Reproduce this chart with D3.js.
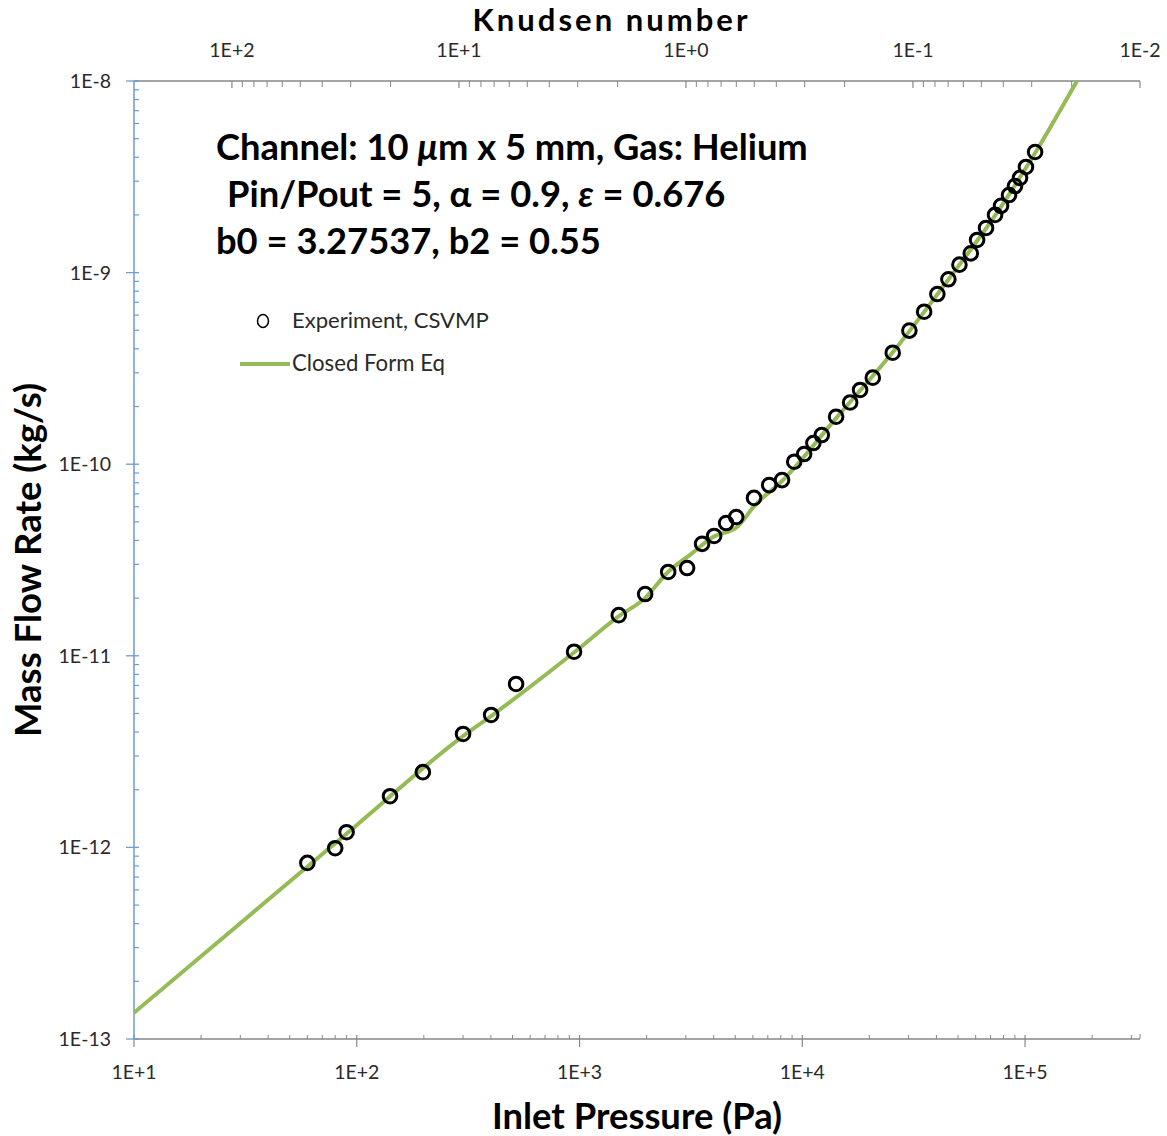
<!DOCTYPE html>
<html>
<head>
<meta charset="utf-8">
<script src="https://cdn.jsdelivr.net/npm/d3@7"></script>
<style>
  html, body { margin: 0; padding: 0; background: #fff; }
  svg { display: block; }
  text { font-family: Lato, "Open Sans", sans-serif; }
</style>
</head>
<body>
<svg id="chart" width="1167" height="1136"></svg>
<script>
// Measured inlet pressure (Pa) and mass flow rate (kg/s), helium
const pressure = [60, 80, 90, 141, 198, 300, 401, 519, 945, 1500,
  1970, 2500, 3040, 3550, 4020, 4550, 5050, 6070, 7100, 8110,
  9200, 10190, 11210, 12230, 14180, 16400, 18170, 20720, 25460, 30240,
  35230, 40380, 45260, 50740, 57060, 60900, 66800, 73300, 78000, 84700,
  90100, 94900, 100900, 110900];
const massFlow = [8.3e-13, 9.9e-13, 1.2e-12, 1.85e-12, 2.47e-12, 3.91e-12, 4.91e-12, 7.13e-12, 1.05e-11, 1.63e-11,
  2.10e-11, 2.74e-11, 2.87e-11, 3.84e-11, 4.22e-11, 4.93e-11, 5.30e-11, 6.67e-11, 7.78e-11, 8.26e-11,
  1.03e-10, 1.13e-10, 1.29e-10, 1.42e-10, 1.77e-10, 2.10e-10, 2.44e-10, 2.83e-10, 3.82e-10, 4.98e-10,
  6.25e-10, 7.73e-10, 9.23e-10, 1.10e-9, 1.26e-9, 1.48e-9, 1.71e-9, 2.00e-9, 2.23e-9, 2.54e-9,
  2.83e-9, 3.12e-9, 3.56e-9, 4.26e-9];

// Closed-form equation result sampled along pressure
const curvePressure = [10, 33.2, 100.2, 300, 401, 944, 1503, 1968, 2495, 3133,
  3972, 5093, 6138, 8110, 14190, 25290, 45080, 77270, 110900, 171000];
const curveFlow = [1.37e-13, 4.44e-13, 1.31e-12, 3.81e-12, 4.85e-12, 1.04e-11, 1.61e-11, 2.00e-11, 2.74e-11, 3.36e-11,
  4.17e-11, 4.70e-11, 6.12e-11, 8.17e-11, 1.74e-10, 3.80e-10, 9.14e-10, 2.17e-9, 4.21e-9, 1.0e-8];

// Axis ticks
const pressureTicks = [1e1, 1e2, 1e3, 1e4, 1e5];
const pressureLabels = ["1E+1", "1E+2", "1E+3", "1E+4", "1E+5"];
const flowTicks = [1e-13, 1e-12, 1e-11, 1e-10, 1e-9, 1e-8];
const flowLabels = ["1E-13", "1E-12", "1E-11", "1E-10", "1E-9", "1E-8"];
const knudsenTicks = [1e2, 1e1, 1e0, 1e-1, 1e-2];
const knudsenLabels = ["1E+2", "1E+1", "1E+0", "1E-1", "1E-2"];

const plotL = 134, plotR = 1140, plotT = 81, plotB = 1039;

const x = d3.scaleLog().domain([10, 3.28e5]).range([plotL, plotR]);
const y = d3.scaleLog().domain([1e-13, 1e-8]).range([plotB, plotT]);
const kn = d3.scaleLog().domain([270, 0.01]).range([plotL, plotR]);

const svg = d3.select("#chart");
svg.append("rect").attr("width", 1167).attr("height", 1136).attr("fill", "#fff");

function minors(lo, hi, domainLo, domainHi) {
  const out = [];
  for (let e = lo; e <= hi; e++) {
    for (let k = 2; k <= 9; k++) {
      const v = k * Math.pow(10, e);
      if (v > domainLo && v < domainHi) out.push(v);
    }
  }
  return out;
}

const grey = "#878787", blue = "#6c9bd2", labelInk = "#2a2a2a";
const axes = svg.append("g");

// Bottom axis (pressure)
axes.append("line").attr("x1", plotL).attr("x2", plotR).attr("y1", plotB).attr("y2", plotB)
  .attr("stroke", grey).attr("stroke-width", 1.3);
axes.selectAll(".xminor").data(minors(1, 5, 10, 3.28e5)).join("line")
  .attr("x1", d => x(d)).attr("x2", d => x(d)).attr("y1", plotB).attr("y2", plotB - 4)
  .attr("stroke", grey).attr("stroke-width", 1);
axes.selectAll(".xmajor").data(pressureTicks).join("line")
  .attr("x1", d => x(d)).attr("x2", d => x(d)).attr("y1", plotB - 4).attr("y2", plotB + 8)
  .attr("stroke", grey).attr("stroke-width", 1.2);
axes.append("line").attr("x1", plotR).attr("x2", plotR).attr("y1", plotB).attr("y2", plotB - 5)
  .attr("stroke", grey).attr("stroke-width", 1);
axes.selectAll(".xlab").data(pressureTicks).join("text")
  .attr("x", d => x(d)).attr("y", plotB + 40).attr("text-anchor", "middle")
  .attr("font-size", 19.5).attr("fill", labelInk).text((d, i) => pressureLabels[i]);

// Top axis (Knudsen number)
axes.append("line").attr("x1", plotL).attr("x2", plotR).attr("y1", plotT).attr("y2", plotT)
  .attr("stroke", grey).attr("stroke-width", 1.3);
axes.selectAll(".kminor").data(minors(-2, 1, 0.01, 100)).join("line")
  .attr("x1", d => kn(d)).attr("x2", d => kn(d)).attr("y1", plotT).attr("y2", plotT + 6)
  .attr("stroke", grey).attr("stroke-width", 1);
axes.selectAll(".kmajor").data(knudsenTicks).join("line")
  .attr("x1", d => kn(d)).attr("x2", d => kn(d)).attr("y1", plotT).attr("y2", plotT + 7)
  .attr("stroke", grey).attr("stroke-width", 1.2);
axes.selectAll(".klab").data(knudsenTicks).join("text")
  .attr("x", d => kn(d)).attr("y", plotT - 24).attr("text-anchor", "middle")
  .attr("font-size", 19.5).attr("fill", labelInk).text((d, i) => knudsenLabels[i]);

// Left axis (mass flow rate)
axes.append("line").attr("x1", plotL).attr("x2", plotL).attr("y1", plotT).attr("y2", plotB)
  .attr("stroke", blue).attr("stroke-width", 1.5);
axes.selectAll(".yminor").data(minors(-13, -9, 1e-13, 1e-8)).join("line")
  .attr("x1", plotL).attr("x2", plotL + 5).attr("y1", d => y(d)).attr("y2", d => y(d))
  .attr("stroke", blue).attr("stroke-width", 1.2);
axes.selectAll(".ymajor").data(flowTicks).join("line")
  .attr("x1", plotL - 8).attr("x2", plotL + 5).attr("y1", d => y(d)).attr("y2", d => y(d))
  .attr("stroke", blue).attr("stroke-width", 1.3);
axes.selectAll(".ylab").data(flowTicks).join("text")
  .attr("x", plotL - 23).attr("y", d => y(d) + 7).attr("text-anchor", "end")
  .attr("font-size", 19.5).attr("fill", labelInk).text((d, i) => flowLabels[i]);

// Plot clip
svg.append("clipPath").attr("id", "plotClip").append("rect")
  .attr("x", plotL).attr("y", plotT).attr("width", plotR - plotL).attr("height", plotB - plotT);

const curveData = curvePressure.map((p, i) => [p, curveFlow[i]]);
const line = d3.line().x(d => x(d[0])).y(d => y(d[1])).curve(d3.curveMonotoneX);
svg.append("path").attr("clip-path", "url(#plotClip)")
  .attr("d", line(curveData)).attr("fill", "none")
  .attr("stroke", "#94bb55").attr("stroke-width", 4).attr("stroke-linejoin", "round");

const pts = pressure.map((p, i) => [p, massFlow[i]]);
svg.append("g").selectAll("circle").data(pts).join("circle")
  .attr("cx", d => x(d[0])).attr("cy", d => y(d[1])).attr("r", 6.8)
  .attr("fill", "none").attr("stroke", "#000").attr("stroke-width", 3);

// Text helper: scale font so the text spans the given width
function fit(sel, width) {
  const w = sel.node().getComputedTextLength();
  const fs = parseFloat(sel.attr("font-size"));
  sel.attr("font-size", fs * width / w);
  return sel;
}

// Axis titles
svg.append("text").attr("x", 610).attr("y", 31).attr("text-anchor", "middle")
  .attr("font-size", 31).attr("font-weight", "bold").attr("fill", "#000")
  .attr("textLength", 275).attr("lengthAdjust", "spacing")
  .text("Knudsen number");
fit(svg.append("text").attr("x", 637).attr("y", 1129).attr("text-anchor", "middle")
  .attr("font-size", 30).attr("font-weight", "bold").attr("fill", "#000")
  .text("Inlet Pressure (Pa)"), 290);
fit(svg.append("text").attr("transform", "translate(41,560) rotate(-90)").attr("text-anchor", "middle")
  .attr("font-size", 30).attr("font-weight", "bold").attr("fill", "#000")
  .text("Mass Flow Rate (kg/s)"), 354);

// Annotation block
const note = svg.append("g").attr("font-weight", "bold").attr("fill", "#000");
const l1 = note.append("text").attr("x", 216).attr("y", 160).attr("font-size", 31);
l1.append("tspan").text("Channel: 10 ");
l1.append("tspan").attr("font-style", "italic").text("\u03bc");
l1.append("tspan").text("m x 5 mm, Gas: Helium");
fit(l1, 592);
const fs1 = l1.attr("font-size");
const l2 = note.append("text").attr("x", 227).attr("y", 207).attr("font-size", fs1);
l2.append("tspan").text("Pin/Pout = 5, \u03b1 = 0.9, ");
l2.append("tspan").attr("font-style", "italic").text("\u03b5");
l2.append("tspan").text(" = 0.676");
note.append("text").attr("x", 216).attr("y", 254).attr("font-size", fs1)
  .text("b0 = 3.27537, b2 = 0.55");

// Legend
const legend = svg.append("g");
legend.append("ellipse").attr("cx", 263).attr("cy", 321).attr("rx", 5.5).attr("ry", 6.5)
  .attr("fill", "none").attr("stroke", "#000").attr("stroke-width", 1.5);
fit(legend.append("text").attr("x", 292).attr("y", 328).attr("font-size", 19).attr("fill", labelInk)
  .text("Experiment, CSVMP"), 197);
legend.append("line").attr("x1", 240).attr("x2", 290).attr("y1", 364).attr("y2", 364)
  .attr("stroke", "#94bb55").attr("stroke-width", 4);
fit(legend.append("text").attr("x", 292).attr("y", 371).attr("font-size", 19).attr("fill", labelInk)
  .text("Closed Form Eq"), 153);
</script>
</body>
</html>
